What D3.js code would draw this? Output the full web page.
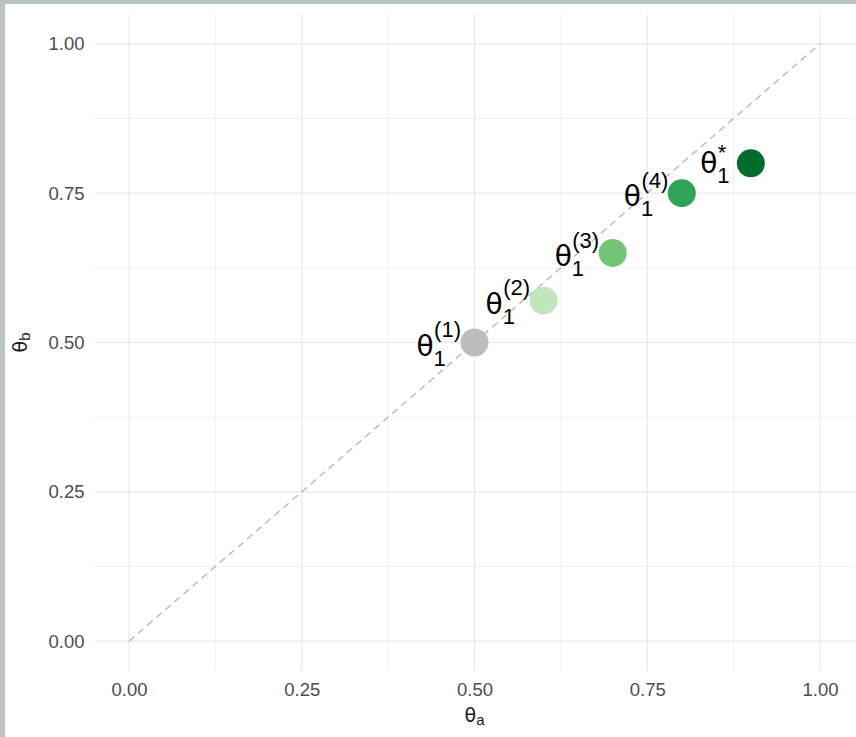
<!DOCTYPE html>
<html>
<head>
<meta charset="utf-8">
<script src="https://cdn.jsdelivr.net/npm/d3@7"></script>
<style>
  html, body { margin: 0; padding: 0; background: #b8c4bc; }
  svg { display: block; }
</style>
</head>
<body>
<svg id="chart" width="856" height="737"></svg>
<script>
// Iterates of theta_1 on their way to the optimum theta_1^*
const thetaA = [0.50, 0.60, 0.70, 0.80, 0.90];
const thetaB = [0.50, 0.57, 0.65, 0.75, 0.80];
const labelSup = ["(1)", "(2)", "(3)", "(4)", "*"];
const labelSub = ["1", "1", "1", "1", "1"];
const pointColors = ["#bdbdbd", "#c2e6bb", "#74c476", "#31a354", "#006d2c"];
const majorTicks = [0, 0.25, 0.5, 0.75, 1];
const minorTicks = [0.125, 0.375, 0.625, 0.875];
const tickLabels = ["0.00", "0.25", "0.50", "0.75", "1.00"];

const W = 856, H = 737;
const FONT = "'Liberation Sans', Arial, Helvetica, sans-serif";
const GREEK = "'DejaVu Sans', 'Liberation Sans', sans-serif";
const svg = d3.select("#chart");

// page frame: thin tinted strip on the top and left edges
svg.append("rect").attr("x", 0).attr("y", 0).attr("width", W).attr("height", H).attr("fill", "#b8c4bc");
svg.append("rect").attr("x", 5).attr("y", 4).attr("width", W - 5).attr("height", H - 4).attr("fill", "#ffffff");

const panel = { left: 94.5, right: 854.5, top: 14, bottom: 671 };
const x = d3.scaleLinear().domain([-0.05, 1.05]).range([panel.left, panel.right]);
const y = d3.scaleLinear().domain([-0.05, 1.05]).range([panel.bottom, panel.top]);

// grid
const grid = svg.append("g");
grid.selectAll("line.minx").data(minorTicks).join("line")
  .attr("x1", d => x(d)).attr("x2", d => x(d)).attr("y1", panel.top).attr("y2", panel.bottom)
  .attr("stroke", "#f0f0f0").attr("stroke-width", 1);
grid.selectAll("line.miny").data(minorTicks).join("line")
  .attr("y1", d => y(d)).attr("y2", d => y(d)).attr("x1", panel.left).attr("x2", panel.right)
  .attr("stroke", "#f0f0f0").attr("stroke-width", 1);
grid.selectAll("line.majx").data(majorTicks).join("line")
  .attr("x1", d => x(d)).attr("x2", d => x(d)).attr("y1", panel.top).attr("y2", panel.bottom)
  .attr("stroke", "#e9e9e9").attr("stroke-width", 1.2);
grid.selectAll("line.majy").data(majorTicks).join("line")
  .attr("y1", d => y(d)).attr("y2", d => y(d)).attr("x1", panel.left).attr("x2", panel.right)
  .attr("stroke", "#e9e9e9").attr("stroke-width", 1.2);

// axes
const xAxis = d3.axisBottom(x).tickValues(majorTicks).tickSize(0).tickPadding(12)
  .tickFormat((d, i) => tickLabels[i]);
const yAxis = d3.axisLeft(y).tickValues(majorTicks).tickSize(0).tickPadding(10)
  .tickFormat((d, i) => tickLabels[i]);
const gx = svg.append("g").attr("transform", `translate(0,${panel.bottom})`).call(xAxis);
const gy = svg.append("g").attr("transform", `translate(${panel.left},0)`).call(yAxis);
[gx, gy].forEach(g => {
  g.select(".domain").remove();
  g.selectAll("text").attr("fill", "#4d4d4d").style("font-family", FONT).style("font-size", "18.5px");
});

// identity line
svg.append("line")
  .attr("x1", x(0)).attr("y1", y(0)).attr("x2", x(1)).attr("y2", y(1))
  .attr("stroke", "#b5b5b5").attr("stroke-width", 1.3).attr("stroke-dasharray", "7,5");

// points
svg.append("g").selectAll("circle").data(thetaA).join("circle")
  .attr("cx", d => x(d)).attr("cy", (d, i) => y(thetaB[i])).attr("r", 14)
  .attr("fill", (d, i) => pointColors[i]);

// math labels: theta with a subscript and a stacked superscript
const ctx = document.createElement("canvas").getContext("2d");
function ink(str, size, family) {
  ctx.font = `${size}px ${family}`;
  const m = ctx.measureText(str);
  return { w: m.width, asc: m.actualBoundingBoxAscent, desc: m.actualBoundingBoxDescent };
}
const baseSize = 28, scriptSize = 22;
const labels = svg.append("g");
thetaA.forEach((a, i) => {
  const px = x(a), py = y(thetaB[i]);
  const th = ink("θ", baseSize, GREEK), sb = ink(labelSub[i], scriptSize, FONT), sp = ink(labelSup[i], scriptSize, FONT);
  const subY = 10;
  const supY = -24 + (sp.asc - sp.desc) / 2;
  const width = th.w + Math.max(sb.w, sp.w);
  const top = Math.min(-th.asc, supY - sp.asc);
  const bottom = Math.max(th.desc, subY + sb.desc);
  const ox = px - 36 - width / 2;
  const oy = py + 1 - (top + bottom) / 2;
  const g = labels.append("g").attr("transform", `translate(${ox},${oy})`)
    .style("font-family", FONT).attr("fill", "#000");
  g.append("text").attr("x", 0).attr("y", 0).style("font-family", GREEK).style("font-size", baseSize + "px").text("θ");
  g.append("text").attr("x", th.w).attr("y", subY).style("font-size", scriptSize + "px").text(labelSub[i]);
  g.append("text").attr("x", th.w + 0.5).attr("y", supY).style("font-size", scriptSize + "px").text(labelSup[i]);
});

// axis titles
const xt = svg.append("text").attr("x", (panel.left + panel.right) / 2).attr("y", 722)
  .attr("text-anchor", "middle").style("font-family", FONT).attr("fill", "#1a1a1a");
xt.append("tspan").style("font-family", GREEK).style("font-size", "19px").text("θ");
xt.append("tspan").style("font-size", "15px").attr("dy", 3).text("a");

const yt = svg.append("text")
  .attr("transform", `translate(27,${(panel.top + panel.bottom) / 2}) rotate(-90)`)
  .attr("text-anchor", "middle").style("font-family", FONT).attr("fill", "#1a1a1a");
yt.append("tspan").style("font-family", GREEK).style("font-size", "19px").text("θ");
yt.append("tspan").style("font-size", "15px").attr("dy", 3).text("b");
</script>
</body>
</html>
